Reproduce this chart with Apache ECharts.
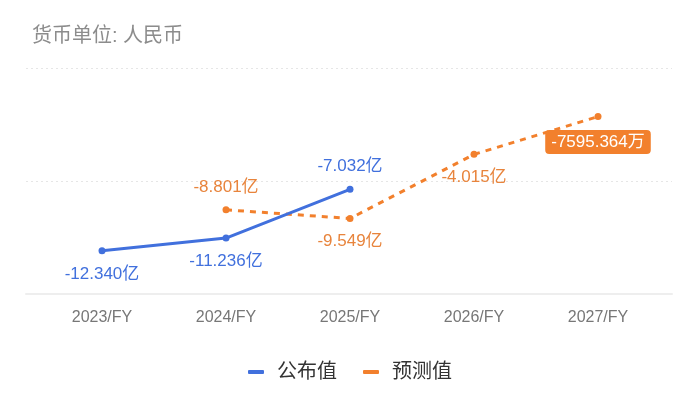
<!DOCTYPE html>
<html><head><meta charset="utf-8">
<script src="https://cdn.jsdelivr.net/npm/echarts@6/dist/echarts.min.js"></script>
<style>html,body{margin:0;padding:0;background:#fff}#c{width:700px;height:410px}</style>
</head><body><div id="c"></div>
<script>
var categories = ['2023/FY', '2024/FY', '2025/FY', '2026/FY', '2027/FY'];
var published = [-12.340, -11.236, -7.032, null, null];
var forecast = [null, -8.801, -9.549, -4.015, -0.7595364];
var seriesNames = ['公布值', '预测值'];
var titleText = '货币单位: 人民币';

var FONT = '"Liberation Sans", "Noto Sans CJK SC", sans-serif';
var BLUE = '#4170dd';
var ORANGE = '#f2802d';

function fmt(v) {
  if (Math.abs(v) < 1) return (v * 10000).toFixed(3) + '万';
  return v.toFixed(3) + '亿';
}
var pubPos = ['bottom', 'bottom', 'top', 'bottom', 'bottom'];
var fcPos = ['bottom', 'top', 'bottom', 'bottom', 'bottom'];

function buildData(arr, posArr, boxLast) {
  return arr.map(function (v, i) {
    if (v === null) return null;
    var lab = { position: posArr[i] };
    if (boxLast && i === arr.length - 1) {
      lab.backgroundColor = ORANGE;
      lab.color = '#fff';
      lab.borderRadius = 4;
      lab.padding = [4, 6, 3, 6];
      lab.distance = 10;
    }
    return { value: v, label: lab };
  });
}

var chart = echarts.init(document.getElementById('c'), null, { renderer: 'canvas' });
chart.setOption({
  animation: false,
  title: { text: titleText, left: 27, top: 21, textStyle: { color: '#8c8c8c', fontSize: 20, fontWeight: 'normal', fontFamily: FONT } },
  legend: {
    bottom: 23, left: 'center', itemGap: 26, itemWidth: 16, itemHeight: 4,
    icon: 'roundRect',
    textStyle: { fontSize: 20, color: '#333', fontFamily: FONT, padding: [0, 0, 0, 8] },
    data: [
      { name: seriesNames[0], itemStyle: { color: BLUE } },
      { name: seriesNames[1], itemStyle: { color: ORANGE } }
    ]
  },
  grid: [
    { left: 40, right: 40, top: 68, bottom: 116 },
    { left: 26, right: 28, top: 68, bottom: 116 }
  ],
  xAxis: [
    { type: 'category', gridIndex: 0, data: categories, boundaryGap: true,
      axisLine: { show: false }, axisTick: { show: false },
      axisLabel: { color: '#777', fontSize: 16, margin: 16, fontFamily: FONT } },
    { type: 'value', gridIndex: 1, min: 0, max: 1, show: true,
      axisLine: { show: true, onZero: false, lineStyle: { color: '#eeeeee', width: 2 } },
      axisTick: { show: false }, axisLabel: { show: false }, splitLine: { show: false } }
  ],
  yAxis: [
    { type: 'value', gridIndex: 0, min: -16.06, max: 3.43,
      axisLabel: { show: false }, axisLine: { show: false }, axisTick: { show: false }, splitLine: { show: false } },
    { type: 'value', gridIndex: 1, min: 0, max: 2, interval: 1,
      axisLabel: { show: false }, axisLine: { show: false }, axisTick: { show: false },
      splitLine: { show: true, lineStyle: { color: '#e6e6e6', type: [2, 3], width: 1 } } }
  ],
  series: [
    { name: seriesNames[0], type: 'line', xAxisIndex: 0, yAxisIndex: 0,
      data: buildData(published, pubPos, false),
      symbol: 'circle', symbolSize: 7, connectNulls: false,
      lineStyle: { color: BLUE, width: 3 }, itemStyle: { color: BLUE },
      label: { show: true, color: BLUE, fontSize: 17, distance: 11, fontFamily: FONT,
        formatter: function (p) { return fmt(p.value); } },
      z: 3 },
    { name: seriesNames[1], type: 'line', xAxisIndex: 0, yAxisIndex: 0,
      data: buildData(forecast, fcPos, true),
      symbol: 'circle', symbolSize: 7,
      lineStyle: { color: ORANGE, width: 3, type: [6, 6] }, itemStyle: { color: ORANGE },
      label: { show: true, color: '#e8843c', fontSize: 17, distance: 11, fontFamily: FONT,
        formatter: function (p) { return fmt(p.value); } },
      z: 2 }
  ]
});
</script></body></html>
